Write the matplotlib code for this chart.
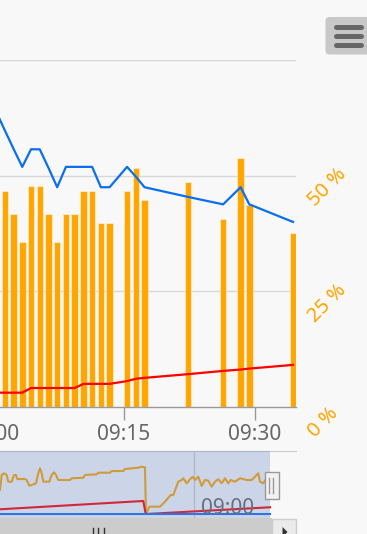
import matplotlib
matplotlib.use("Agg")
import matplotlib.pyplot as plt
from matplotlib.patches import Rectangle, FancyBboxPatch, Polygon
from matplotlib.lines import Line2D
from matplotlib.transforms import Affine2D

W, H, DPI = 367, 534, 100

# ---------------- data ----------------
bar_times = ["09:01:21", "09:02:21", "09:03:21", "09:04:21", "09:05:21", "09:06:21",
             "09:07:21", "09:08:21", "09:09:21", "09:10:21", "09:11:21", "09:12:21",
             "09:13:21", "09:15:21", "09:16:21", "09:17:21", "09:22:21", "09:26:21",
             "09:28:21", "09:29:21", "09:34:21"]
bar_values = [46.7, 41.7, 35.7, 47.8, 47.8, 41.7, 35.7, 41.7, 41.7, 46.7, 46.7, 39.8,
              39.8, 46.7, 51.6, 44.8, 48.6, 40.6, 53.8, 43.7, 37.6]

line_times = ["09:00:21"] + bar_times
blue_values = [63.9, 59.8, 55.8, 51.9, 55.7, 55.7, 51.7, 47.5, 51.9, 51.9, 51.9, 51.9,
               47.5, 47.5, 51.9, 49.8, 47.5, 45.4, 43.8, 47.5, 43.8, 40.0]
red_values = [3.1, 3.1, 3.1, 3.1, 4.1, 4.1, 4.1, 4.1, 4.1, 4.1, 5.0, 5.0, 5.0, 5.0,
              5.6, 6.1, 6.3, 7.1, 7.8, 8.1, 8.3, 9.1]

x_tick_minutes = [15, 30]
x_tick_labels = ["09:15", "09:30"]
first_tick_label = "09:00"
y_tick_values = [0, 25, 50]
y_tick_labels = ["0 %", "25 %", "50 %"]

# navigator (hours since midnight of first day)
nav_hours = [-2.63, -2.32, -1.90, -1.40, -1.11, -0.48, -0.06, 0.30, 0.54, 1.96, 2.27, 2.75,
             3.19, 3.98, 4.40, 4.71, 5.03, 5.32, 6.42, 6.86, 7.29, 7.65, 8.07, 10.22, 10.54,
             12.67, 12.98, 15.13, 15.42, 17.57, 17.88, 20.01, 20.33, 22.77, 23.40, 23.82,
             24.00, 24.18, 24.79, 26.76, 27.67, 28.72, 29.20, 30.12, 30.74, 31.04, 31.66,
             32.27, 32.76, 33.19, 33.79, 34.42, 35.02, 35.63, 36.25, 36.86, 37.47, 38.09,
             38.69, 39.30, 39.74, 40.53, 41.45, 42.68, 43.60, 44.21, 44.81, 45.13, 45.74, 46.23]
nav_orange = [41.8, 64.2, 66.7, 64.2, 54.2, 54.2, 64.2, 64.2, 58.2, 58.2, 56.7, 48.2,
              49.3, 51.8, 66.7, 74.2, 66.7, 54.2, 54.2, 64.2, 68.2, 64.2, 56.7, 56.7, 59.3,
              60.1, 64.2, 65.2, 67.6, 67.6, 70.1, 70.1, 73.1, 75.1, 76.6, 75.7,
              75.7, 6.0, 16.9, 16.9, 24.3, 34.3, 34.3, 54.2, 56.7, 59.3, 51.8,
              57.8, 61.6, 56.7, 61.6, 47.8, 56.7, 55.7, 46.7, 54.2, 57.8, 51.8,
              59.3, 51.8, 56.7, 54.2, 59.3, 56.7, 56.7, 61.6, 66.7, 54.2, 51.8, 58.2]
nav_red_hours = [-2.63, 23.69, 24.13, 24.31, 46.96]
nav_red = [13.0, 25.4, 6.0, 6.0, 16.0]
nav_blue_hours = [-2.63, 46.96]
nav_blue = [5.5, 5.5]
nav_label_hour = 33
nav_label = "09:00"


def to_min(t):
    h, m, s = map(int, t.split(":"))
    return (h - 9) * 60 + m + s / 60


plt.rcParams['font.family'] = ['Noto Sans', 'DejaVu Sans']
BG = '#f8f8f8'
fig = plt.figure(figsize=(W / DPI, H / DPI), dpi=DPI, facecolor=BG)
T = Affine2D().scale(1 / W, -1 / H).translate(0, 1) + fig.transFigure


def rect_ax(x0, y0, x1, y1):
    return [x0 / W, 1 - y1 / H, (x1 - x0) / W, (y1 - y0) / H]


# ---------------- main chart ----------------
ax = fig.add_axes(rect_ax(0, 60, 296, 407))
ax.set_facecolor('none')
bx = [to_min(t) for t in bar_times]
lx = [to_min(t) for t in line_times]
ax.bar(bx, bar_values, width=0.74, color='#FFA500', edgecolor=(1, 1, 1, 0.45),
       linewidth=0.8, zorder=2)
ax.plot(lx, red_values, color='#ff0000', lw=1.6, zorder=3)
ax.plot(lx, blue_values, color='#0a6ef0', lw=1.6, zorder=4)
ax.set_xlim(0.8, 0.8 + 296 / 8.733)
ax.set_ylim(0, 75)
ax.set_yticks([25, 50, 75])
ax.yaxis.grid(True, color='#d8d8d8', lw=1)
ax.set_axisbelow(True)
ax.tick_params(axis='y', length=0, labelleft=False)
for s in ['left', 'right', 'top']:
    ax.spines[s].set_visible(False)
ax.spines['bottom'].set_color('#999999')
ax.spines['bottom'].set_linewidth(1)
ax.set_xticks(x_tick_minutes, x_tick_labels)
TL, PAD = 9.4, 2.9
ax.tick_params(axis='x', length=TL, width=1, color='#999999', pad=PAD,
               labelsize=15, labelcolor='#666666')
ax.annotate(first_tick_label, xy=(0, 0), xycoords=('data', 'axes fraction'),
            xytext=(0, -(TL + PAD)), textcoords='offset points', ha='center', va='top',
            fontsize=15, color='#666666', annotation_clip=False)
for v, lab in zip(y_tick_values, y_tick_labels):
    ax.annotate(lab, xy=(1, v), xycoords=('axes fraction', 'data'), xytext=(14, -22.5),
                textcoords='offset points', rotation=45, rotation_mode='anchor',
                ha='left', va='baseline', fontsize=14.5, color='#FFA500',
                annotation_clip=False)

# ---------------- navigator ----------------
nav = fig.add_axes(rect_ax(0, 451, 296, 518))
nav.set_facecolor('none')
nav.set_xlim(-2.63, 51.74)
nav.set_ylim(0, 100)
nav.axvline(nav_label_hour, color='#d0d0d0', lw=1, zorder=1)
nav.plot(nav_hours, nav_orange, color='#FFA500', lw=1.5, zorder=2)
nav.plot(nav_red_hours, nav_red, color='#ff0000', lw=1.5, zorder=3)
nav.plot(nav_blue_hours, nav_blue, color='#1a6ef0', lw=1.5, zorder=3)
nav.annotate(nav_label, xy=(nav_label_hour, 0), xycoords='data', xytext=(5, 2.9),
             textcoords='offset points', ha='left', va='baseline', fontsize=15,
             color='#666666', zorder=4)
nav.axvspan(-2.63, 46.96, color=(102 / 255, 133 / 255, 194 / 255, 0.3), lw=0, zorder=5)
nav.set_xticks([])
nav.set_yticks([])
for s in ['left', 'right', 'bottom']:
    nav.spines[s].set_visible(False)
nav.spines['top'].set_color('#cccccc')

# navigator handle
fig.add_artist(Rectangle((264.5, 472), 14, 27, transform=T, facecolor='#f2f2f2',
                         edgecolor='#999999', lw=1))
for xx in (268.5, 272.5):
    fig.add_artist(Line2D([xx, xx], [478, 493], transform=T, color='#999999', lw=1))

# scrollbar
fig.add_artist(Rectangle((0, 518), 272, 16, transform=T, facecolor='#cccccc', lw=0))
fig.add_artist(Rectangle((272, 518.5), 24, 16, transform=T, facecolor='#ebebeb',
                         edgecolor='#cccccc', lw=1))
fig.add_artist(Polygon([(282.5, 527), (282.5, 537), (287.5, 532)], closed=True,
                       transform=T, facecolor='#333333', lw=0))
for xx in (93, 98.3, 103.7):
    fig.add_artist(Line2D([xx, xx], [527.5, 536], transform=T, color='#333333', lw=1))

# context menu button
fig.add_artist(FancyBboxPatch((325.5, 17), 50, 37.5, boxstyle='round,pad=0,rounding_size=4',
                              transform=T, facecolor='#c8c8c8', edgecolor='none'))
for yy in (27, 36, 45):
    fig.add_artist(Line2D([336, 360.5], [yy, yy], transform=T, color='#666666', lw=3.6,
                          solid_capstyle='round'))

fig.savefig('out.png', dpi=DPI, facecolor=BG)
